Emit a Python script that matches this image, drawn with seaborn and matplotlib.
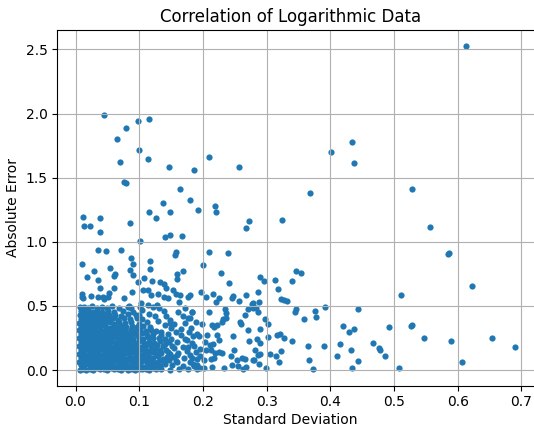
import matplotlib
matplotlib.use("Agg")
import matplotlib.pyplot as plt
import seaborn as sns
import pandas as pd

# (standard deviation, absolute error) pairs, grouped by region of the plot
core_points = [
    (0.007, 0.004), (0.012, 0.012), (0.017, 0.002), (0.022, 0.009), (0.028, 0.003), (0.033, 0.014),
    (0.038, 0.005), (0.044, 0.010), (0.049, 0.002), (0.055, 0.013), (0.060, 0.006), (0.066, 0.011),
    (0.071, 0.003), (0.077, 0.015), (0.082, 0.004), (0.088, 0.009), (0.093, 0.002), (0.099, 0.012),
    (0.104, 0.005), (0.110, 0.010), (0.116, 0.003), (0.121, 0.014), (0.127, 0.006), (0.135, 0.011),
    (0.148, 0.004), (0.163, 0.008), (0.176, 0.012),
    (0.009, 0.038), (0.014, 0.031), (0.020, 0.045), (0.025, 0.034), (0.031, 0.041), (0.036, 0.029),
    (0.042, 0.047), (0.047, 0.036), (0.053, 0.030), (0.058, 0.044), (0.064, 0.033), (0.069, 0.040),
    (0.075, 0.028), (0.080, 0.046), (0.086, 0.035), (0.091, 0.042), (0.097, 0.031), (0.102, 0.039),
    (0.108, 0.027), (0.114, 0.045), (0.119, 0.033), (0.126, 0.040), (0.133, 0.029), (0.141, 0.044),
    (0.152, 0.036), (0.168, 0.030),
    (0.006, 0.065), (0.011, 0.072), (0.016, 0.060), (0.022, 0.078), (0.027, 0.066), (0.033, 0.058),
    (0.038, 0.074), (0.044, 0.063), (0.050, 0.070), (0.055, 0.061), (0.061, 0.077), (0.066, 0.064),
    (0.072, 0.071), (0.077, 0.059), (0.083, 0.075), (0.089, 0.066), (0.094, 0.062), (0.100, 0.079),
    (0.105, 0.068), (0.112, 0.060), (0.118, 0.073), (0.124, 0.065), (0.131, 0.070), (0.139, 0.062),
    (0.146, 0.078), (0.157, 0.067),
    (0.008, 0.095), (0.013, 0.101), (0.019, 0.090), (0.024, 0.106), (0.030, 0.094), (0.035, 0.102),
    (0.041, 0.088), (0.046, 0.105), (0.052, 0.097), (0.057, 0.091), (0.063, 0.108), (0.068, 0.096),
    (0.074, 0.100), (0.079, 0.089), (0.085, 0.104), (0.090, 0.093), (0.096, 0.099), (0.103, 0.107),
    (0.109, 0.092), (0.115, 0.102), (0.122, 0.095), (0.129, 0.106), (0.137, 0.090), (0.144, 0.098),
    (0.154, 0.104),
    (0.006, 0.126), (0.011, 0.133), (0.017, 0.120), (0.022, 0.137), (0.028, 0.125), (0.033, 0.131),
    (0.039, 0.118), (0.045, 0.136), (0.050, 0.127), (0.056, 0.122), (0.061, 0.139), (0.067, 0.128),
    (0.072, 0.121), (0.078, 0.134), (0.084, 0.124), (0.089, 0.138), (0.095, 0.129), (0.101, 0.119),
    (0.107, 0.133), (0.113, 0.126), (0.120, 0.140), (0.127, 0.122), (0.135, 0.131), (0.149, 0.127),
    (0.161, 0.136),
    (0.008, 0.158), (0.014, 0.151), (0.019, 0.166), (0.025, 0.155), (0.030, 0.162), (0.036, 0.149),
    (0.041, 0.167), (0.047, 0.156), (0.053, 0.163), (0.058, 0.150), (0.064, 0.168), (0.069, 0.157),
    (0.075, 0.152), (0.080, 0.165), (0.086, 0.154), (0.092, 0.161), (0.098, 0.148), (0.104, 0.166),
    (0.111, 0.157), (0.117, 0.151), (0.125, 0.164), (0.132, 0.155), (0.142, 0.160),
    (0.006, 0.188), (0.012, 0.183), (0.017, 0.196), (0.023, 0.185), (0.028, 0.192), (0.034, 0.180),
    (0.039, 0.198), (0.045, 0.187), (0.051, 0.193), (0.056, 0.181), (0.062, 0.197), (0.067, 0.186),
    (0.073, 0.191), (0.078, 0.179), (0.084, 0.195), (0.090, 0.184), (0.097, 0.190), (0.103, 0.182),
    (0.110, 0.196), (0.118, 0.187), (0.128, 0.193), (0.138, 0.185), (0.152, 0.190),
    (0.008, 0.218), (0.013, 0.212), (0.019, 0.226), (0.024, 0.215), (0.030, 0.222), (0.035, 0.210),
    (0.041, 0.228), (0.047, 0.217), (0.052, 0.211), (0.058, 0.224), (0.063, 0.214), (0.069, 0.227),
    (0.075, 0.216), (0.080, 0.209), (0.086, 0.223), (0.093, 0.213), (0.100, 0.225), (0.108, 0.212),
    (0.116, 0.220), (0.124, 0.209), (0.133, 0.226), (0.146, 0.215),
    (0.006, 0.249), (0.011, 0.243), (0.017, 0.256), (0.022, 0.246), (0.028, 0.252), (0.033, 0.240),
    (0.039, 0.258), (0.044, 0.247), (0.050, 0.253), (0.056, 0.241), (0.061, 0.257), (0.067, 0.245),
    (0.072, 0.251), (0.078, 0.239), (0.085, 0.254), (0.091, 0.244), (0.099, 0.250), (0.106, 0.242),
    (0.114, 0.256), (0.122, 0.247), (0.131, 0.253), (0.140, 0.241),
    (0.008, 0.279), (0.014, 0.273), (0.019, 0.286), (0.025, 0.276), (0.030, 0.282), (0.036, 0.270),
    (0.042, 0.288), (0.047, 0.277), (0.053, 0.271), (0.059, 0.284), (0.064, 0.274), (0.070, 0.287),
    (0.076, 0.278), (0.082, 0.270), (0.089, 0.283), (0.097, 0.275), (0.105, 0.286), (0.112, 0.272),
    (0.121, 0.281), (0.134, 0.276),
    (0.006, 0.309), (0.011, 0.303), (0.017, 0.316), (0.022, 0.306), (0.028, 0.312), (0.033, 0.300),
    (0.039, 0.318), (0.045, 0.307), (0.050, 0.301), (0.056, 0.314), (0.062, 0.304), (0.068, 0.317),
    (0.074, 0.308), (0.080, 0.300), (0.087, 0.313), (0.094, 0.305), (0.102, 0.311), (0.110, 0.302),
    (0.118, 0.315), (0.127, 0.307),
    (0.008, 0.339), (0.013, 0.333), (0.019, 0.346), (0.025, 0.336), (0.030, 0.342), (0.036, 0.330),
    (0.042, 0.348), (0.048, 0.337), (0.054, 0.331), (0.060, 0.344), (0.066, 0.334), (0.073, 0.347),
    (0.080, 0.336), (0.088, 0.342), (0.097, 0.332), (0.106, 0.345), (0.117, 0.338),
    (0.006, 0.369), (0.012, 0.363), (0.018, 0.376), (0.023, 0.366), (0.029, 0.372), (0.035, 0.360),
    (0.041, 0.378), (0.047, 0.367), (0.054, 0.373), (0.061, 0.362), (0.069, 0.375), (0.078, 0.365),
    (0.087, 0.371), (0.099, 0.361), (0.112, 0.374),
    (0.008, 0.399), (0.013, 0.393), (0.019, 0.406), (0.025, 0.396), (0.031, 0.402), (0.037, 0.390),
    (0.044, 0.408), (0.051, 0.397), (0.059, 0.403), (0.067, 0.392), (0.076, 0.405), (0.085, 0.396),
    (0.104, 0.400),
    (0.007, 0.429), (0.012, 0.423), (0.018, 0.436), (0.024, 0.426), (0.030, 0.432), (0.037, 0.420),
    (0.045, 0.438), (0.053, 0.427), (0.062, 0.433), (0.071, 0.421), (0.082, 0.435), (0.095, 0.428),
    (0.008, 0.458), (0.014, 0.452), (0.020, 0.466), (0.027, 0.455), (0.034, 0.462), (0.042, 0.450),
    (0.051, 0.464), (0.061, 0.454), (0.074, 0.460), (0.090, 0.455),
    (0.007, 0.488), (0.013, 0.495), (0.019, 0.483), (0.026, 0.499), (0.033, 0.487), (0.041, 0.493),
    (0.049, 0.481), (0.058, 0.497), (0.068, 0.485), (0.083, 0.490),
]

fringe_points = [
    (0.150, 0.330), (0.158, 0.300), (0.165, 0.270), (0.172, 0.245), (0.160, 0.215), (0.168, 0.180),
    (0.175, 0.150), (0.160, 0.120), (0.170, 0.095), (0.180, 0.060), (0.186, 0.030), (0.190, 0.005),
    (0.148, 0.390), (0.155, 0.360), (0.140, 0.350), (0.130, 0.380), (0.125, 0.420), (0.115, 0.440),
    (0.105, 0.470), (0.100, 0.430), (0.135, 0.300), (0.145, 0.280), (0.150, 0.240), (0.140, 0.200),
    (0.155, 0.170), (0.145, 0.140), (0.150, 0.100), (0.160, 0.065), (0.180, 0.115), (0.185, 0.265),
    (0.178, 0.300), (0.165, 0.320), (0.190, 0.040), (0.195, 0.110),
    (0.0845, 0.499), (0.0876, 0.481), (0.096, 0.408), (0.101, 0.494), (0.1306, 0.481), (0.1389, 0.460),
    (0.142, 0.424), (0.148, 0.364), (0.1614, 0.450), (0.172, 0.481), (0.1692, 0.424), (0.176, 0.403),
    (0.1724, 0.364), (0.1834, 0.455), (0.1755, 0.236), (0.183, 0.213), (0.1766, 0.182), (0.1897, 0.143),
    (0.1824, 0.450), (0.2096, 0.450), (0.2352, 0.473), (0.2363, 0.447), (0.2708, 0.478), (0.2666, 0.427),
    (0.1897, 0.377), (0.1986, 0.361), (0.2138, 0.349), (0.2174, 0.338), (0.2217, 0.351), (0.230, 0.372),
    (0.232, 0.398), (0.2363, 0.403), (0.2578, 0.374), (0.2593, 0.361), (0.1797, 0.403), (0.1818, 0.328),
    (0.1907, 0.281), (0.1934, 0.265), (0.2064, 0.273), (0.2033, 0.221), (0.2217, 0.273), (0.2116, 0.195),
    (0.2154, 0.200), (0.2248, 0.232), (0.2477, 0.268), (0.2708, 0.315), (0.2719, 0.226), (0.2493, 0.154),
    (0.1855, 0.187), (0.196, 0.161), (0.2049, 0.156), (0.2122, 0.156), (0.2195, 0.130), (0.2248, 0.138),
    (0.2305, 0.130), (0.1824, 0.096), (0.1903, 0.086), (0.2013, 0.080), (0.2127, 0.086), (0.2174, 0.096),
    (0.2446, 0.109), (0.254, 0.076), (0.2614, 0.091), (0.2656, 0.086), (0.279, 0.078), (0.2452, 0.039),
    (0.2546, 0.031), (0.2634, 0.010), (0.2672, 0.023), (0.184, 0.049), (0.195, 0.018), (0.2022, 0.018),
    (0.2148, 0.023), (0.2336, 0.018),
    (0.279, 0.481), (0.2834, 0.481), (0.2865, 0.452), (0.2975, 0.395), (0.302, 0.361), (0.290, 0.317),
    (0.3017, 0.260), (0.3168, 0.271), (0.3215, 0.278), (0.3278, 0.250), (0.340, 0.226), (0.285, 0.244),
    (0.290, 0.211), (0.2823, 0.156), (0.290, 0.127), (0.287, 0.119), (0.3053, 0.127), (0.3143, 0.107),
    (0.322, 0.151), (0.320, 0.060), (0.2797, 0.076), (0.2886, 0.047), (0.299, 0.018),
]

upper_points = [
    (0.0102, 0.595), (0.0102, 0.569), (0.0122, 0.559), (0.0243, 0.577), (0.0348, 0.569), (0.0432, 0.572),
    (0.0452, 0.551), (0.0515, 0.572), (0.0531, 0.603), (0.060, 0.642), (0.0757, 0.564), (0.0892, 0.606),
    (0.1055, 0.626), (0.1138, 0.622), (0.118, 0.585), (0.130, 0.590), (0.1394, 0.569), (0.1447, 0.559),
    (0.1535, 0.622), (0.158, 0.590), (0.164, 0.585), (0.162, 0.533), (0.1766, 0.572), (0.180, 0.585),
    (0.1975, 0.608), (0.2054, 0.567), (0.2164, 0.593), (0.221, 0.528), (0.2253, 0.559), (0.246, 0.562),
    (0.2477, 0.577), (0.2567, 0.536), (0.2677, 0.585), (0.2776, 0.517),
    (0.1033, 0.520), (0.1143, 0.507), (0.122, 0.494), (0.1284, 0.507),
    (0.0102, 0.824), (0.0871, 0.871), (0.0898, 0.824), (0.1165, 0.853), (0.1557, 0.897), (0.2006, 0.819),
    (0.228, 0.759), (0.2415, 0.676), (0.029, 0.775), (0.0542, 0.798), (0.0604, 0.731), (0.0625, 0.751),
    (0.0856, 0.782), (0.0898, 0.741), (0.1165, 0.786), (0.0176, 0.723), (0.0358, 0.700), (0.0385, 0.637),
    (0.0986, 0.689), (0.108, 0.715), (0.120, 0.697), (0.1327, 0.689), (0.1394, 0.671), (0.142, 0.637),
    (0.1598, 0.751), (0.1692, 0.775), (0.1593, 0.707),
    (0.3457, 0.770), (0.3535, 0.759), (0.340, 0.692), (0.3127, 0.700), (0.3174, 0.632), (0.290, 0.723),
    (0.2959, 0.694), (0.287, 0.608), (0.3226, 0.551), (0.3268, 0.543), (0.3325, 0.536), (0.278, 0.520),
    (0.288, 0.528),
    (0.0358, 0.938), (0.0484, 0.926), (0.071, 0.938), (0.210, 0.918), (0.239, 0.910), (0.1582, 0.918),
    (0.0452, 1.986), (0.098, 1.945), (0.116, 1.960), (0.080, 1.885), (0.0646, 1.802), (0.099, 1.714),
    (0.0704, 1.622), (0.1143, 1.646), (0.147, 1.586), (0.1855, 1.562), (0.0766, 1.466), (0.0797, 1.459),
    (0.1645, 1.414), (0.1374, 1.300), (0.1797, 1.324), (0.1918, 1.248), (0.1159, 1.235), (0.1269, 1.188),
    (0.1479, 1.235), (0.0118, 1.196), (0.039, 1.188), (0.0133, 1.121), (0.0228, 1.121), (0.086, 1.144),
    (0.039, 1.074), (0.141, 1.040), (0.1484, 1.053), (0.1677, 1.045), (0.101, 1.005),
    (0.210, 1.661), (0.2567, 1.586), (0.401, 1.698), (0.3686, 1.383), (0.2185, 1.277), (0.220, 1.232),
    (0.272, 1.160), (0.2677, 1.105), (0.3247, 1.168),
]

tail_points = [
    (0.6126, 2.525), (0.4336, 1.781), (0.4377, 1.615), (0.5287, 1.412), (0.556, 1.113),
    (0.5863, 0.915), (0.5848, 0.902), (0.6229, 0.655), (0.5105, 0.587),
    (0.444, 0.473), (0.391, 0.489), (0.3765, 0.458), (0.3776, 0.413), (0.4927, 0.338), (0.526, 0.346),
    (0.528, 0.353), (0.547, 0.250), (0.5895, 0.226), (0.6534, 0.250), (0.6895, 0.182), (0.6072, 0.060),
    (0.5083, 0.018), (0.4204, 0.346), (0.4289, 0.294), (0.4367, 0.317), (0.4152, 0.203), (0.432, 0.158),
    (0.411, 0.107), (0.444, 0.068), (0.4336, 0.018), (0.467, 0.213), (0.476, 0.169), (0.478, 0.158),
    (0.4864, 0.107), (0.390, 0.187), (0.3655, 0.190), (0.367, 0.075), (0.3728, 0.008), (0.358, 0.400),
    (0.3446, 0.452), (0.3457, 0.478),
]

all_points = core_points + fringe_points + upper_points + tail_points
df = pd.DataFrame(all_points, columns=["Standard Deviation", "Absolute Error"])

fig = plt.figure(figsize=(5.34, 4.25), dpi=100)
ax = fig.add_axes([57.3 / 534, 39.3 / 425, 478.7 / 534, 355.7 / 425])

sns.scatterplot(data=df, x="Standard Deviation", y="Absolute Error", ax=ax,
                color="#1f77b4", s=20, linewidth=0)

ax.set_xlim(-0.0286, 0.723)
ax.set_ylim(-0.122, 2.652)
ax.set_xticks([0.0, 0.1, 0.2, 0.3, 0.4, 0.5, 0.6, 0.7])
ax.set_yticks([0.0, 0.5, 1.0, 1.5, 2.0, 2.5])
ax.grid(True, color="#b0b0b0", linewidth=0.8)
ax.spines["right"].set_visible(False)

ax.set_title("Correlation of Logarithmic Data", fontsize=12, x=0.487)
ax.set_xlabel("Standard Deviation", labelpad=2.5)
ax.set_ylabel("Absolute Error")
ax.xaxis.label.set_x(0.487)

fig.savefig("out.png", dpi=100)
